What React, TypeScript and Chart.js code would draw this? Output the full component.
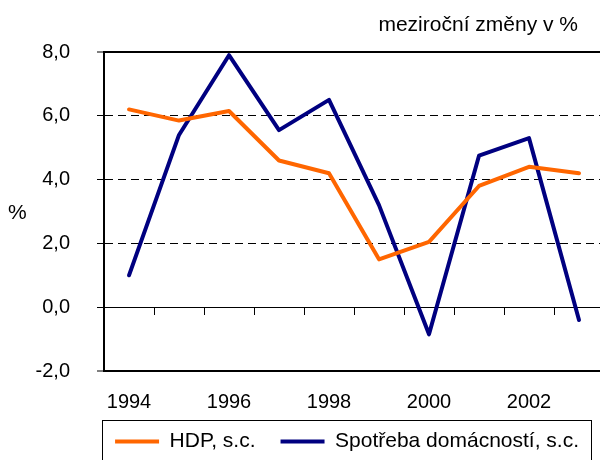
import React, { useEffect, useRef } from "react";
import { Chart, registerables } from "chart.js";

Chart.register(...registerables);

const years = ["1994", "1995", "1996", "1997", "1998", "1999", "2000", "2001", "2002", "2003"];
const hdp = [6.2, 5.85, 6.15, 4.6, 4.2, 1.5, 2.05, 3.8, 4.4, 4.2];
const spotreba = [1.0, 5.4, 7.9, 5.55, 6.5, 3.2, -0.85, 4.75, 5.3, -0.4];
const seriesNames = ["HDP, s.c.", "Spotřeba domácností, s.c."];
const titleText = "meziroční změny v %";
const yUnit = "%";

const FONT = '"Liberation Sans", Arial, sans-serif';
const TICK_FS = 20;
const LEG_FS = 21;

const decorPlugin = {
  id: "decor",
  afterLayout(chart: any) {
    // let the year labels extend below the axis box so they are not clipped
    const s = chart.scales.x;
    if (s) {
      s.bottom = s.top + 60;
      s.height = 60;
    }
  },
  afterDraw(chart: any) {
    const ctx = chart.ctx;
    ctx.save();
    ctx.fillStyle = "#000";
    ctx.font = `${LEG_FS}px ${FONT}`;
    ctx.textBaseline = "middle";
    ctx.textAlign = "right";
    ctx.fillText(titleText, 578, 25);
    ctx.textAlign = "left";
    ctx.fillText(yUnit, 8, 213);
    const lg = chart.legend;
    if (lg && lg.legendHitBoxes && lg.legendHitBoxes.length) {
      const hb = lg.legendHitBoxes;
      const first = hb[0];
      const last = hb[hb.length - 1];
      const left = Math.round(first.left - 13) + 0.5;
      const right = Math.round(last.left + last.width + 12) + 0.5;
      const top = Math.round(first.top + LEG_FS / 2 - 22) + 0.5;
      ctx.strokeStyle = "#000";
      ctx.lineWidth = 1;
      ctx.strokeRect(left, top, right - left, 80);
    }
    ctx.restore();
  },
};

export default function App() {
  const ref = useRef<HTMLCanvasElement | null>(null);
  useEffect(() => {
    document.body.style.overflow = "hidden";
    const canvas = ref.current;
    if (!canvas) return;
    const chart = new Chart(canvas, {
      type: "line",
      data: {
        labels: years,
        datasets: [
          {
            label: seriesNames[0],
            data: hdp,
            borderColor: "#FF6600",
            backgroundColor: "#FF6600",
            borderWidth: 4,
            pointRadius: 0,
            borderJoinStyle: "round",
            borderCapStyle: "round",
            tension: 0,
          },
          {
            label: seriesNames[1],
            data: spotreba,
            borderColor: "#000080",
            backgroundColor: "#000080",
            borderWidth: 4,
            pointRadius: 0,
            borderJoinStyle: "round",
            borderCapStyle: "round",
            tension: 0,
          },
        ],
      },
      options: {
        responsive: false,
        animation: false,
        devicePixelRatio: 1,
        layout: { padding: { left: 30, top: 52, right: 8, bottom: 0 } },
        plugins: {
          title: { display: false },
          tooltip: { enabled: false },
          legend: {
            display: true,
            position: "bottom",
            align: "end",
            fullSize: true,
            maxHeight: 54,
            labels: {
              usePointStyle: true,
              pointStyle: "line",
              pointStyleWidth: 44,
              padding: 25,
              color: "#000",
              font: { family: FONT, size: LEG_FS },
            },
          },
        },
        scales: {
          x: {
            type: "category",
            offset: true,
            grid: { display: false, drawTicks: false },
            border: { display: true, color: "#000", width: 2 },
            ticks: {
              autoSkip: false,
              maxRotation: 0,
              padding: 19,
              color: "#000",
              font: { family: FONT, size: TICK_FS },
              callback: (_v: any, i: number) => (i % 2 === 0 ? years[i] : ""),
            },
            afterFit: (s: any) => {
              s.height = 35;
            },
          },
          x2: {
            type: "category",
            axis: "x",
            position: { y: 0 },
            offset: true,
            grid: {
              display: true,
              drawOnChartArea: false,
              drawTicks: true,
              tickLength: 7,
              offset: true,
              color: "#000",
              lineWidth: 1,
            },
            border: { display: true, color: "#000", width: 1 },
            ticks: { display: false },
          },
          y: {
            min: -2,
            max: 8,
            ticks: {
              stepSize: 2,
              padding: 27,
              color: "#000",
              font: { family: FONT, size: TICK_FS },
              callback: (v: any) => Number(v).toFixed(1).replace(".", ","),
            },
            grid: {
              color: "#000",
              lineWidth: (c: any) => (c.tick && (c.tick.value === 8 || c.tick.value === -2) ? 2 : 1),
              drawTicks: true,
              tickLength: 7,
              tickColor: "#000",
              tickWidth: 1,
              tickBorderDash: [],
            },
            border: {
              display: true,
              color: "#000",
              width: 2,
              dash: (c: any) => (c.tick && [2, 4, 6].includes(c.tick.value) ? [8, 5] : []),
            },
            afterFit: (s: any) => {
              s.width = 74;
            },
          },
        },
      },
      plugins: [decorPlugin],
    } as any);
    return () => chart.destroy();
  }, []);
  return (
    <div style={{ position: "fixed", left: 0, top: 0, width: 612, height: 460, background: "#fff" }}>
      <canvas ref={ref} width={612} height={460} style={{ width: 612, height: 460, display: "block" }} />
    </div>
  );
}
